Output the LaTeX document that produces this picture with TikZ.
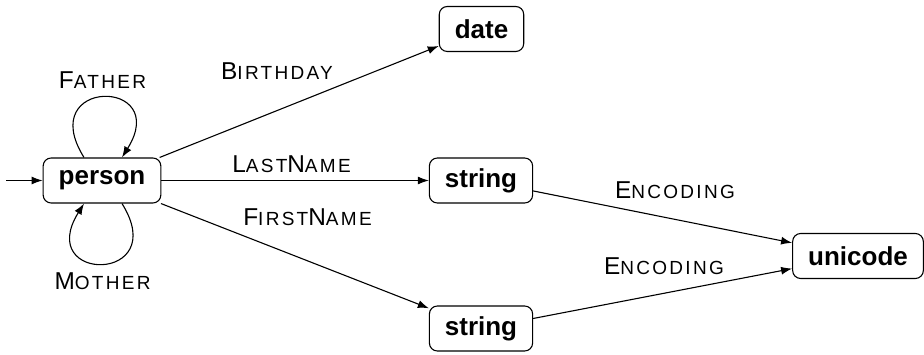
\documentclass[tikz,border=0pt]{standalone}
\usepackage{fontspec}
\setmainfont{Liberation Sans}
\newfontfamily\scfont[LetterSpace=12]{Liberation Sans}
\usetikzlibrary{arrows.meta}
\newcommand\smc[1]{{\scfont\fontsize{19}{22}\selectfont #1}}
\tikzset{
  state/.style={draw, rounded corners=8pt, line width=1.1pt, minimum height=45pt,
    inner xsep=15.5pt, inner ysep=0pt, font=\bfseries\fontsize{26}{30}\selectfont},
  arr/.style={line width=1.1pt, -{Latex[length=11pt,width=8pt]}},
  lbl/.style={font=\fontsize{24.4}{28}\selectfont, inner sep=0pt, anchor=base}
}
\begin{document}
\begin{tikzpicture}[x=1pt,y=-1pt]
\useasboundingbox (0,0) rectangle (924,355);
% states
\node[state] (person) at (102,180.5) {person};
\node[state] (date) at (481.5,29) {date};
\node[state] (str1) at (481,180.5) {string};
\node[state] (str2) at (481,328.5) {string};
\node[state] (uni) at (858,256) {unicode};
% initial arrow
\coordinate (start) at (6,180.5);
\draw[arr] (start) -- (person);
% self loops
\draw[arr] ([xshift=-18pt]person.north) .. controls +(-50,-80) and +(50,-80) .. ([xshift=20pt]person.north);
\draw[arr] ([xshift=20pt]person.south) .. controls +(50,80) and +(-50,80) .. ([xshift=-18pt]person.south);
% transitions
\draw[arr] (person) -- (date);
\draw[arr] (person) -- (str1);
\draw[arr] (person) -- (str2);
\draw[arr] (str1) -- (uni);
\draw[arr] (str2) -- (uni);
% labels
\node[lbl] (lf) at (102.5,89) {F\smc{ATHER}};
\node[lbl] (lm) at (102.5,290) {M\smc{OTHER}};
\node[lbl] (lb) at (277,80) {B\smc{IRTHDAY}};
\node[lbl] (ll) at (291.5,172.5) {L\smc{AST}N\smc{AME}};
\node[lbl] (lfn) at (307.5,225.5) {F\smc{IRST}N\smc{AME}};
\node[lbl] (le1) at (675,199) {E\smc{NCODING}};
\node[lbl] (le2) at (664,275) {E\smc{NCODING}};
\end{tikzpicture}
\end{document}
